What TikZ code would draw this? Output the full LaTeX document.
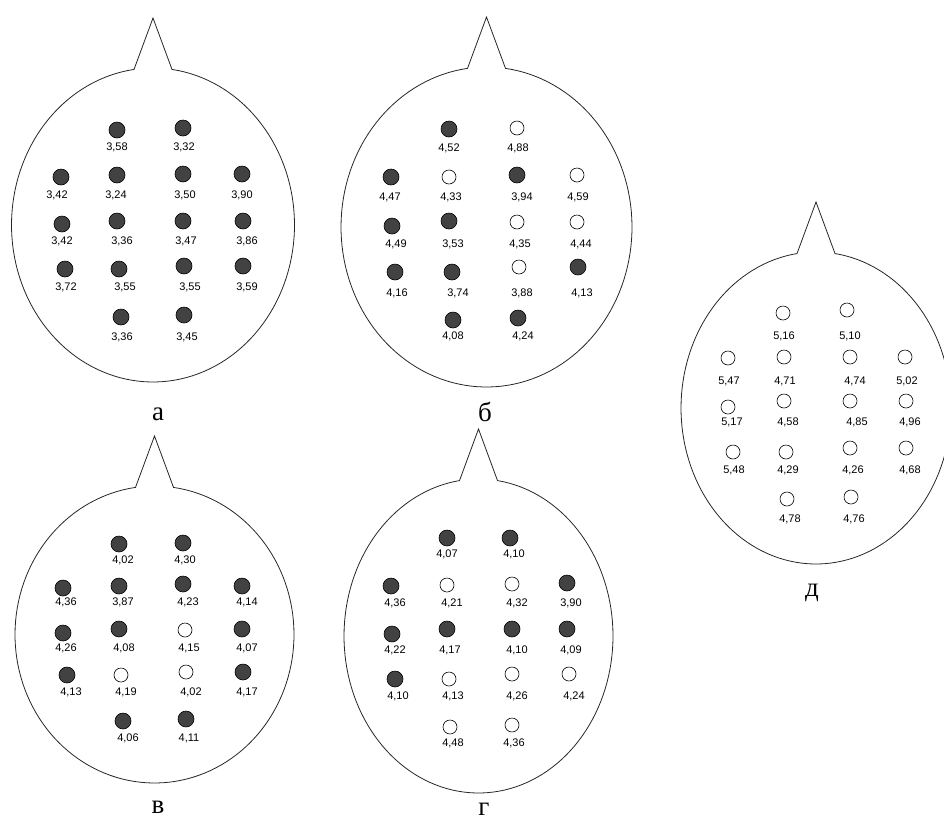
\documentclass[tikz,border=0pt]{standalone}
\usepackage{fontspec}
\setmainfont{Liberation Serif}
\setsansfont{Liberation Sans}
\usepackage{tikz}
\newcommand{\valfont}{\sffamily\fontsize{11}{11}\selectfont}
\newcommand{\capfont}{\rmfamily\fontsize{27}{27}\selectfont}
\tikzset{
  headline/.style={draw=black!85,line width=0.8pt},
  dk/.style={circle,draw=black,fill=black!74,line width=0.6pt,minimum size=16pt,inner sep=0pt},
  lt/.style={circle,draw=black,fill=white,line width=0.6pt,minimum size=14pt,inner sep=0pt},
  val/.style={font=\valfont,inner sep=0pt},
  letter/.style={font=\capfont,inner sep=0pt}
}
% head outline: centre x, centre y, x radius, y radius
\newcommand{\scalp}[4]{\pgfmathsetmacro{\nb}{acos(19/#3)}\pgfmathsetmacro{\ne}{180+\nb}
  \draw[headline] plot[domain=-\nb:\ne,samples=140] ({#1+#3*cos(\x)},{#2+#4*sin(\x)})
    -- ({#1},{#2-#4-50}) -- cycle;}
% electrodes: x/y of dot, x/y of value, value, style
\newcommand{\electrodes}[2]{\foreach \px/\py/\lx/\ly/\v/\s [count=\i] in {#2}{
    \node[\s] (#1\i) at (\px,\py) {};
    \node[val] (#1\i v) at (\lx,\ly) {\v};}}

\begin{document}
\begin{tikzpicture}[x=1pt,y=-1pt]
\useasboundingbox (0,0) rectangle (944,820);
\scalp{153}{225}{141.5}{157}
\scalp{486.5}{227}{145.5}{160}
\scalp{154.5}{634.5}{139.5}{148.5}
\scalp{478.5}{636}{134.5}{157}
\scalp{816}{408}{135}{156}
\electrodes{a}{117/130/117/147/{3,58}/dk, 183/128/184/147/{3,32}/dk,
  61/177/57/195/{3,42}/dk, 117/175/116/195/{3,24}/dk, 183/174/185/195/{3,50}/dk, 242/174/242/195/{3,90}/dk,
  62/224/62/241/{3,42}/dk, 117/221/122/241/{3,36}/dk, 183/221/186/241/{3,47}/dk, 243/221/247/241/{3,86}/dk,
  65/269/66/287/{3,72}/dk, 119/269/125/287/{3,55}/dk, 184/266/190/287/{3,55}/dk, 243/266/247/287/{3,59}/dk,
  121/317/122/337/{3,36}/dk, 184/315/187/337/{3,45}/dk}
\electrodes{b}{449/129/449/148/{4,52}/dk, 517/128/518/148/{4,88}/lt,
  391/177/390/197/{4,47}/dk, 449/177/451/197/{4,33}/lt, 517/175/522/197/{3,94}/dk, 577/175/578/197/{4,59}/lt,
  392/226/396/244/{4,49}/dk, 449/221/453/244/{3,53}/dk, 517/222/520/244/{4,35}/lt, 577/222/581/244/{4,44}/lt,
  395/272/397/293/{4,16}/dk, 452/272/458/293/{3,74}/dk, 519/267/522/293/{3,88}/lt, 578/267/582/293/{4,13}/dk,
  453/320/453/336/{4,08}/dk, 518/318/523/336/{4,24}/dk}
\electrodes{v}{119/544/123/560/{4,02}/dk, 183/543/185/560/{4,30}/dk,
  63/588/66/602/{4,36}/dk, 119/586/123/602/{3,87}/dk, 183/584/188/602/{4,23}/dk, 242/586/247/602/{4,14}/dk,
  63/633/66/648/{4,26}/dk, 119/629/124/648/{4,08}/dk, 185/630/189/648/{4,15}/lt, 242/629/247/648/{4,07}/dk,
  67/675/71/692/{4,13}/dk, 121/675/126/692/{4,19}/lt, 186/672/191/692/{4,02}/lt, 243/672/247/692/{4,17}/dk,
  123/721/128/738/{4,06}/dk, 186/719/189/738/{4,11}/dk}
\electrodes{g}{447/538/447/554/{4,07}/dk, 510/538/514/554/{4,10}/dk,
  391/586/395/603/{4,36}/dk, 447/585/452/603/{4,21}/lt, 512/584/517/603/{4,32}/lt, 567/583/571/603/{3,90}/dk,
  392/634/395/650/{4,22}/dk, 447/629/450/650/{4,17}/dk, 512/629/517/650/{4,10}/dk, 567/629/571/650/{4,09}/dk,
  395/679/398/696/{4,10}/dk, 449/679/453/696/{4,13}/lt, 512/674/517/696/{4,26}/lt, 569/674/574/696/{4,24}/lt,
  450/727/453/743/{4,48}/lt, 512/725/514/743/{4,36}/lt}
\electrodes{d}{783/313/784/336/{5,16}/lt, 847/310/850/336/{5,10}/lt,
  728/358/729/381/{5,47}/lt, 784/357/785/381/{4,71}/lt, 850/357/855/381/{4,74}/lt, 905/357/907/381/{5,02}/lt,
  728/407/732/422/{5,17}/lt, 784/401/788/422/{4,58}/lt, 850/401/857/422/{4,85}/lt, 906/401/910/422/{4,96}/lt,
  733/452/734/470/{5,48}/lt, 786/452/788/470/{4,29}/lt, 850/448/853/470/{4,26}/lt, 906/448/910/470/{4,68}/lt,
  787/499/790/519/{4,78}/lt, 851/497/854/519/{4,76}/lt}
\node[letter] (capa) at (158,414) {а};
\node[letter] (capb) at (485,412) {б};
\node[letter] (capv) at (158,807) {в};
\node[letter] (capg) at (484,809) {г};
\node[letter] (capd) at (812,593) {д};
\end{tikzpicture}
\end{document}
